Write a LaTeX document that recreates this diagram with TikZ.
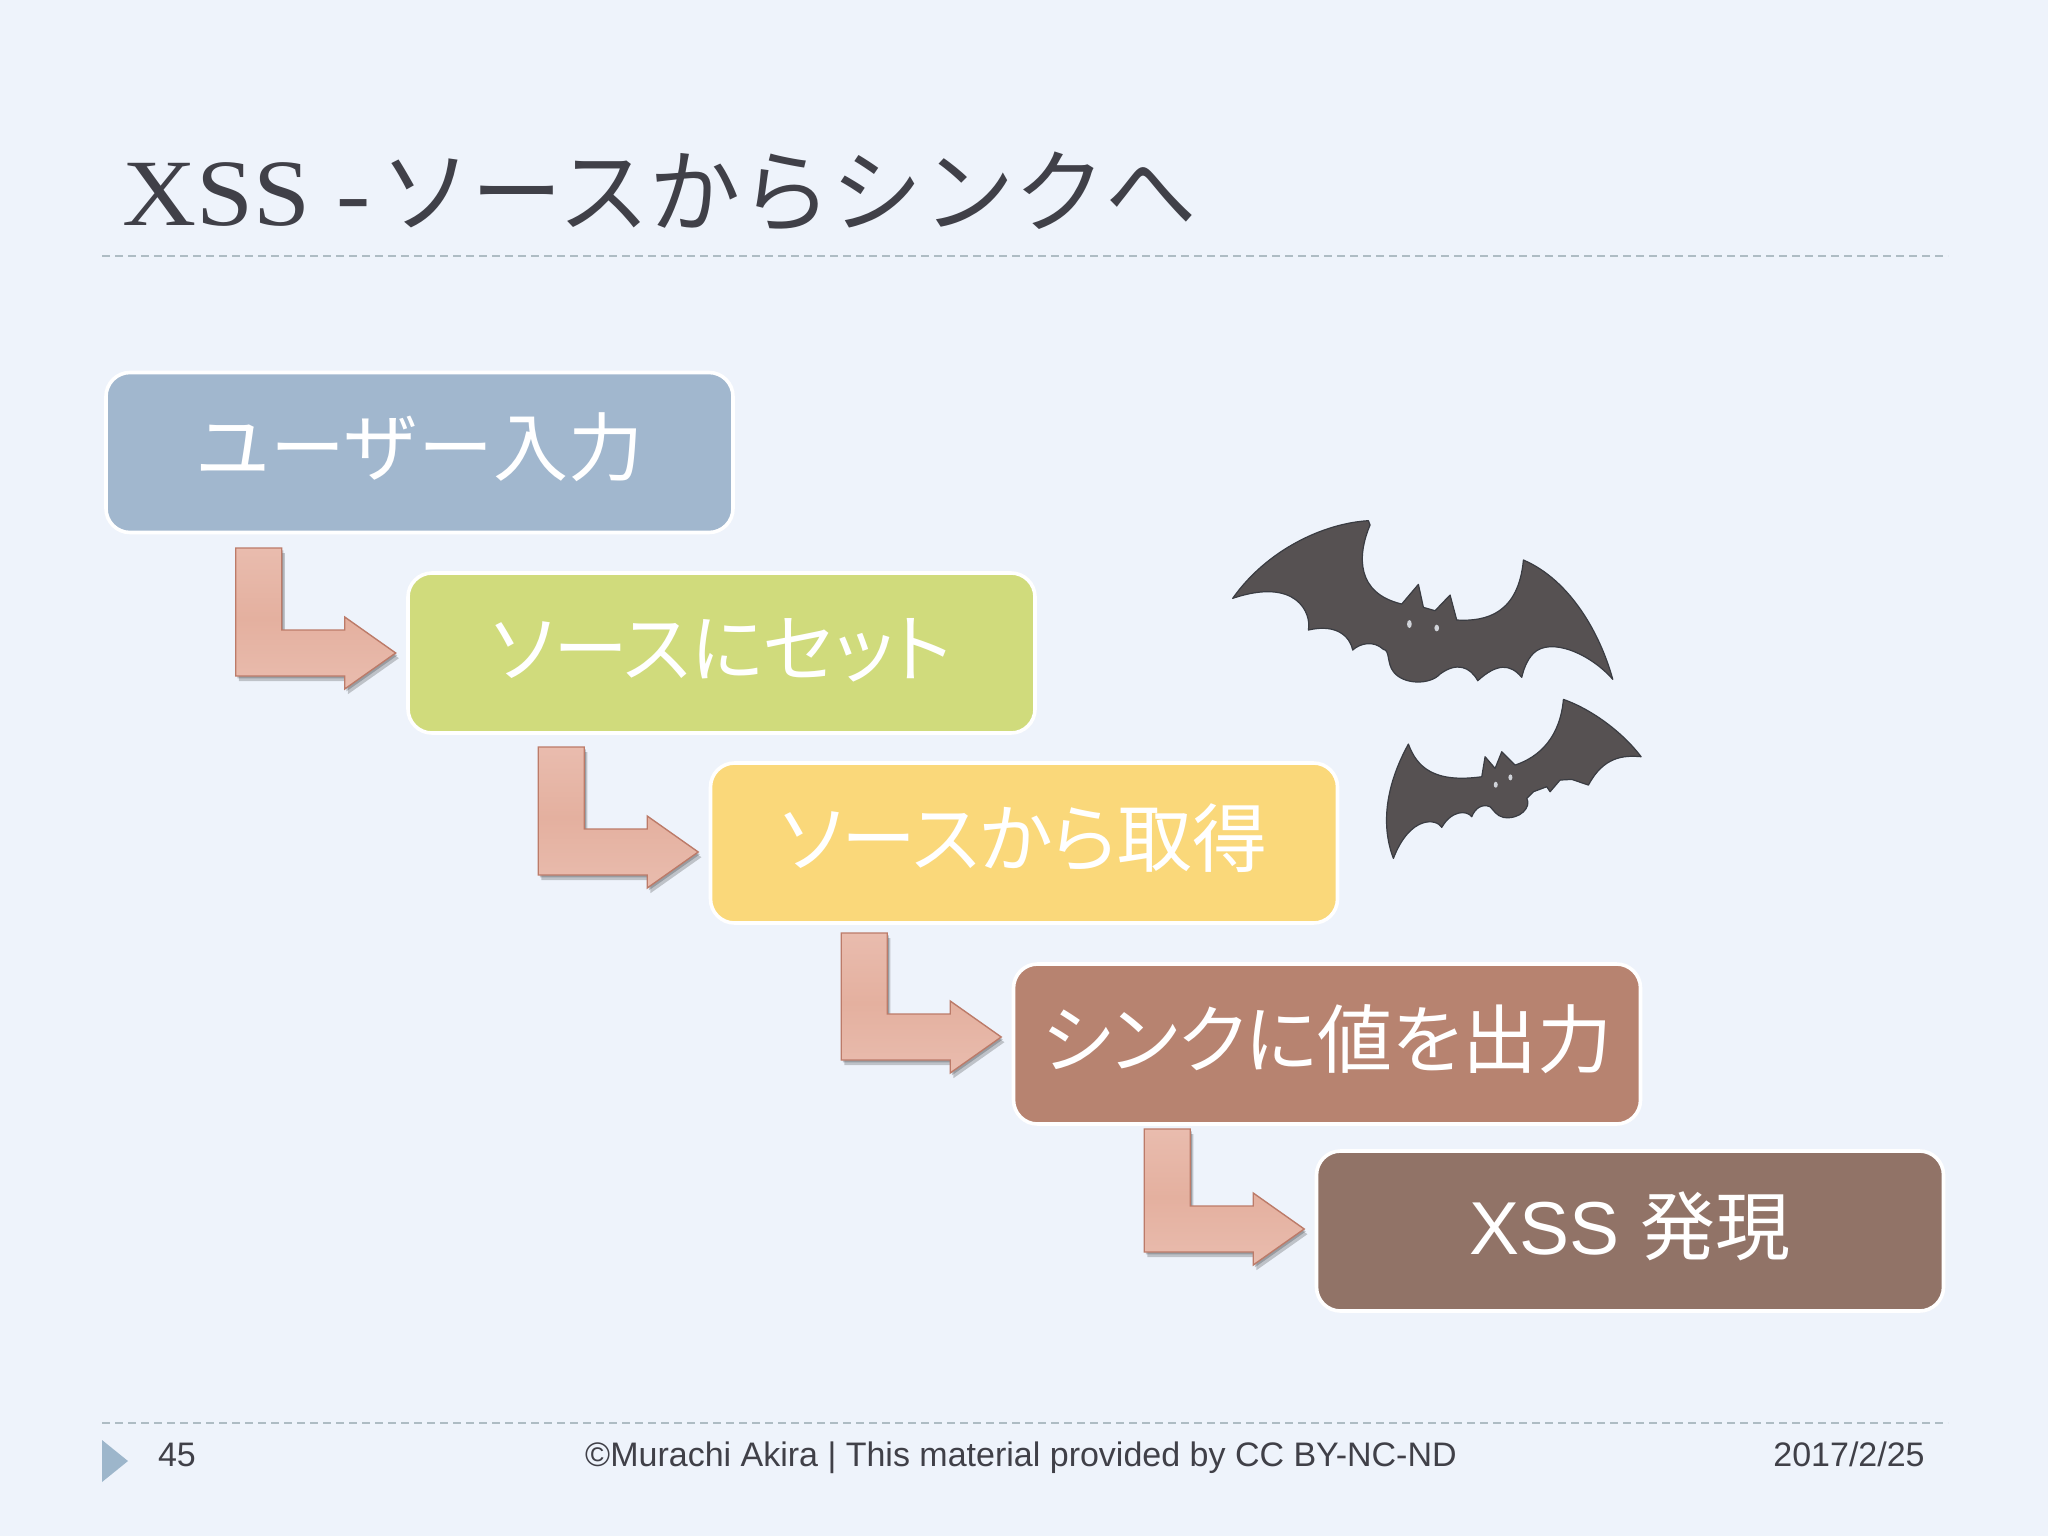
\documentclass[tikz,border=0pt]{standalone}
\usepackage{fontspec}
\setmainfont{Liberation Serif}
\setsansfont{Liberation Sans}
\newfontfamily\titlefont[FakeStretch=1.08]{Liberation Serif}
\newfontfamily\cjk{Noto Sans CJK JP}
\newfontfamily\cjkp[RawFeature=+palt]{Noto Sans CJK JP}
\usetikzlibrary{arrows,shadows}
\definecolor{slidebg}{HTML}{EEF3FB}
\definecolor{inkgray}{HTML}{404048}
\definecolor{dashgray}{HTML}{AEBCC4}
\definecolor{batfill}{HTML}{565152}
\definecolor{batline}{HTML}{3A3C42}
\definecolor{arrowline}{HTML}{BC7B69}
\definecolor{arrowlight}{HTML}{E9BCAE}
\definecolor{arrowmid}{HTML}{E4B09F}
\definecolor{stepblue}{HTML}{A1B7CE}
\definecolor{stepgreen}{HTML}{D0DB7C}
\definecolor{stepyellow}{HTML}{FAD87A}
\definecolor{stepbrown}{HTML}{B78370}
\definecolor{stepdark}{HTML}{917367}
\definecolor{footblue}{HTML}{9DB6CB}
\tikzset{
  stepbox/.style={draw=white,line width=1.8pt,rounded corners=12pt,minimum width=313.5pt,minimum height=80pt,inner sep=0pt,text=white,text height=32pt,text depth=9pt,font=\sffamily\fontsize{37.5}{38}\selectfont},
  bendarrow/.style={draw=arrowline,line width=0.7pt,top color=arrowlight,bottom color=arrowlight,middle color=arrowmid,
    drop shadow={shadow xshift=0.8pt,shadow yshift=-1.2pt,opacity=.2,fill=black},
    drop shadow={shadow xshift=1.6pt,shadow yshift=-2.6pt,opacity=.2,fill=black}},
  rule/.style={draw=dashgray,line width=0.7pt,dash pattern=on 4pt off 2.5pt},
  foot/.style={anchor=base,inner sep=0pt,text=inkgray,font=\sffamily\fontsize{17}{17}\selectfont},
  batshape/.style={fill=batfill,draw=batline,line width=0.6pt,line join=round},
  bateye/.style={fill=slidebg!80!batfill,draw=none}
}
% bent block arrow, tip just left of the box it points at
\newcommand{\bendarrow}[3]{
  \draw[bendarrow] ([shift={(-10.5,#2)}]#1.west) -- ++(-51,-36) -- ++(0,13) -- ++(-63,0) -- ++(0,-#3)
    -- ++(-46,0) -- ++(0,#3+46) -- ++(109,0) -- ++(0,13) -- cycle;
}
\begin{document}
\begin{tikzpicture}[x=0.5pt,y=-0.5pt]
  \fill[slidebg] (0,0) rectangle (2048,1536);
  \useasboundingbox (0,0) rectangle (2048,1536);
  % title
  \node[anchor=base west,inner sep=0pt,text=inkgray,font=\titlefont\fontsize{47.5}{47.5}\selectfont] (title) at (122,225) {XSS -\hspace{5pt}{\cjk\fontsize{45.6}{47}\selectfont ソースからシンクへ}};
  \coordinate (rule1a) at (102,256);
  \coordinate (rule1b) at (1948,256);
  \coordinate (rule2a) at (102,1423);
  \coordinate (rule2b) at (1948,1423);
  \draw[rule] (rule1a) -- (rule1b);
  \draw[rule] (rule2a) -- (rule2b);
  % boxes
  \node[stepbox,fill=stepblue] (input) at (419.5,452.5) {\cjk ユーザー入力};
  \node[stepbox,fill=stepgreen] (setsrc) at (721.5,653) {\cjkp ソースにセット};
  \node[stepbox,fill=stepyellow] (getsrc) at (1024,843) {\cjkp ソースから取得};
  \node[stepbox,fill=stepbrown] (sink) at (1327,1044) {\cjkp シンクに値を出力};
  \node[stepbox,fill=stepdark] (xss) at (1630,1231) {XSS {\cjk 発現}};
  % arrows
  \bendarrow{setsrc}{0}{82}
  \bendarrow{getsrc}{9}{82}
  \bendarrow{sink}{-7}{81}
  \bendarrow{xss}{-2}{77}
  % bats
  \begin{scope}[shift={(1180,490)},x=0.1667pt,y=-0.1667pt]
    \draw[batshape] (158,325) .. controls (260,180) and (430,100) .. (565,92) -- (570,105)
      .. controls (530,200) and (530,310) .. (665,342) -- (715,283) -- (730,352) -- (765,362) -- (810,315) -- (830,390)
      .. controls (920,395) and (1015,370) .. (1030,210)
      .. controls (1170,270) and (1260,430) .. (1298,568) .. controls (1230,490) and (1110,440) .. (1060,490)
      .. controls (1040,510) and (1030,540) .. (1025,562) .. controls (990,520) and (950,520) .. (893,572) .. controls (870,530) and (830,515) .. (780,552)
      .. controls (750,585) and (670,585) .. (640,545) .. controls (620,520) and (630,480) .. (610,478)
      .. controls (580,450) and (540,460) .. (518,480) .. controls (510,440) and (470,400) .. (385,420)
      .. controls (395,370) and (350,260) .. (158,325) -- cycle;
    \fill[bateye] (688,402) ellipse (7 and 12);
    \fill[bateye] (770,414) ellipse (7 and 10);
    \draw[batshape] (640,1105) .. controls (600,1000) and (620,880) .. (685,762)
      .. controls (710,830) and (760,880) .. (905,860) -- (915,800) -- (945,835) -- (965,785) -- (1005,825)
      .. controls (1080,800) and (1140,740) .. (1150,628) .. controls (1240,660) and (1330,730) .. (1383,800)
      .. controls (1330,795) and (1270,800) .. (1225,885) -- (1175,868) -- (1140,870) -- (1110,905) -- (1100,890) -- (1060,905) -- (1040,925)
      .. controls (1055,950) and (1020,990) .. (970,982) .. controls (950,978) and (940,960) .. (930,950)
      .. controls (905,940) and (885,955) .. (875,980) .. controls (860,960) and (815,960) .. (785,1012)
      .. controls (770,985) and (690,975) .. (640,1105) -- cycle;
    \fill[bateye] (947,884) ellipse (6 and 9);
    \fill[bateye] (991,862) ellipse (6 and 9);
  \end{scope}
  % footer
  \fill[footblue] (102,1440) -- (128,1461) -- (102,1482) -- cycle;
  \node[foot] (page) at (177,1466) {45};
  \node[foot] (credit) at (1021,1466) {©Murachi Akira | This material provided by CC BY-NC-ND};
  \node[foot] (date) at (1849,1466) {2017/2/25};
\end{tikzpicture}
\end{document}
